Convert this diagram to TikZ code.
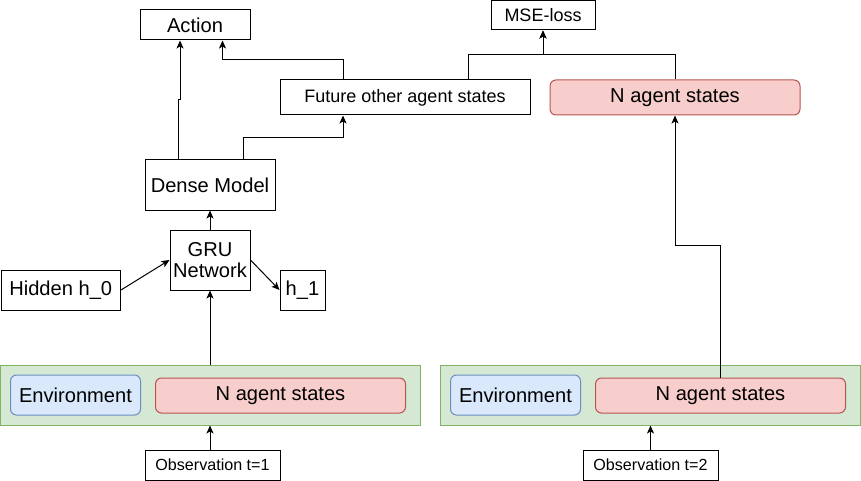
\documentclass[tikz,border=0pt]{standalone}
\usepackage{fontspec}
\setmainfont{Liberation Sans}
\usetikzlibrary{arrows.meta}
\definecolor{gfill}{HTML}{D5E8D4}\definecolor{gdraw}{HTML}{82B366}
\definecolor{bfill}{HTML}{DAE8FC}\definecolor{bdraw}{HTML}{6C8EBF}
\definecolor{rfill}{HTML}{F8CECC}\definecolor{rdraw}{HTML}{B85450}
\tikzset{
  box/.style={draw=black, line width=1pt, inner sep=0pt, anchor=center, align=center, font=\fontsize{20.1}{22}\selectfont},
  medbox/.style={box, font=\fontsize{18}{20}\selectfont},
  smallbox/.style={box, font=\fontsize{16.1}{18}\selectfont},
  redbox/.style={box, rounded corners=6pt, fill=rfill, draw=rdraw},
  bluebox/.style={box, rounded corners=6pt, fill=bfill, draw=bdraw},
  greenbox/.style={box, fill=gfill, draw=gdraw},
  arr/.style={draw=black, line width=1pt, -{Stealth[length=8pt,width=7pt,inset=2pt]}},
}
\begin{document}
\begin{tikzpicture}[x=1pt,y=-1pt]
\useasboundingbox (0,0) rectangle (861,481);
% top row
\node[box, minimum width=110, minimum height=30] (action) at (195,25) {Action};
\node[medbox, minimum width=104, minimum height=29] (mse) at (543,15.5) {MSE-loss};
\node[medbox, minimum width=250, minimum height=35] (future) at (405,97.5) {Future other agent states};
\node[redbox, minimum width=250, minimum height=35] (nstop) at (675,97.5) {N agent states};
% middle
\node[box, minimum width=130, minimum height=50] (dense) at (210,185) {Dense Model};
\node[box, minimum width=80, minimum height=60, font=\fontsize{20.1}{21.5}\selectfont] (gru) at (210,260) {GRU\\Network};
\node[box, minimum width=119.5, minimum height=40] (h0) at (60.75,290) {Hidden h\_0};
\node[box, minimum width=45, minimum height=40] (h1) at (302.5,290) {h\_1};
% bottom left
\node[greenbox, minimum width=419.5, minimum height=60] (cont1) at (210.25,395) {};
\node[bluebox, minimum width=130, minimum height=40] (env1) at (75.5,395) {Environment};
\node[redbox, minimum width=250, minimum height=35] (ns1) at (280.5,395.5) {N agent states};
\node[smallbox, minimum width=135, minimum height=30] (obs1) at (212.5,465) {Observation t=1};
% bottom right
\node[greenbox, minimum width=420, minimum height=60] (cont2) at (650.5,395) {};
\node[bluebox, minimum width=130, minimum height=40] (env2) at (515.5,395) {Environment};
\node[redbox, minimum width=250, minimum height=35] (ns2) at (720.5,395.5) {N agent states};
\node[smallbox, minimum width=135, minimum height=30] (obs2) at (650.5,465) {Observation t=2};
% connectors
\draw[arr] (obs1.north -| gru.south) -- (cont1.south -| gru.south);
\draw[arr] (cont1.north -| gru.south) -- (gru.south);
\draw[arr] (h0.east) -- (gru.west);
\draw[arr] (gru.east) -- (h1.west);
\draw[arr] (gru.north) -- (dense.south);
\draw[arr] ([xshift=-32pt]dense.north) -- ++(0,-60) -- ++(2,0) -- ([xshift=-15pt]action.south);
\draw[arr] ([xshift=33pt]dense.north) -- ++(0,-22) -| ([xshift=-62pt]future.south);
\draw[arr] ([xshift=-62pt]future.north) -- ++(0,-20) -| ([xshift=27.5pt]action.south);
\draw[arr] ([xshift=63pt]future.north) -- ++(0,-25) -| (mse.south);
\draw[arr] (nstop.north) -- ++(0,-25) -| (mse.south);
\draw[arr] (ns2.north) -- ++(0,-132) -| (nstop.south);
\draw[arr] (obs2.north) -- (cont2.south -| obs2.north);
\end{tikzpicture}
\end{document}
